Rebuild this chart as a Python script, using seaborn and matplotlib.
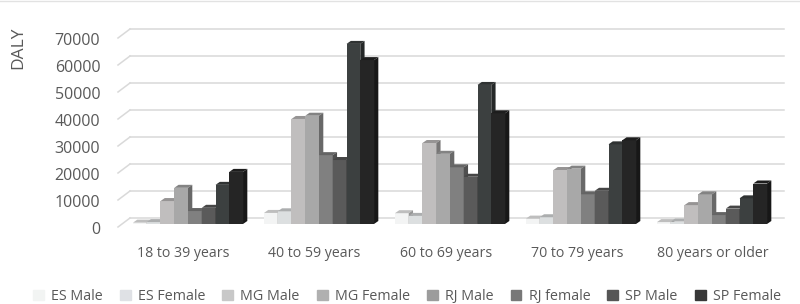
import matplotlib
matplotlib.use('Agg')
import matplotlib.pyplot as plt
import matplotlib.patches as mpatches
from matplotlib.colors import to_rgb
from matplotlib.transforms import ScaledTranslation
import pandas as pd
import seaborn as sns

ages = ['18 to 39 years', '40 to 59 years', '60 to 69 years', '70 to 79 years', '80 years or older']
groups = ['ES Male', 'ES Female', 'MG Male', 'MG Female', 'RJ Male', 'RJ female', 'SP Male', 'SP Female']

es_male = [500, 4100, 4000, 2000, 700]
es_female = [700, 4700, 3000, 2500, 900]
mg_male = [8500, 38900, 30000, 20000, 7000]
mg_female = [13400, 40100, 26000, 20500, 11000]
rj_male = [4800, 25500, 21000, 11000, 3300]
rj_female = [6000, 23700, 17500, 12300, 5700]
sp_male = [14500, 66700, 51500, 29500, 9500]
sp_female = [19300, 60700, 41000, 31000, 15000]
all_series = [es_male, es_female, mg_male, mg_female, rj_male, rj_female, sp_male, sp_female]

bar_colors = ['#f3f4f4', '#dcdfe0', '#c0bebe', '#a8a8a8', '#808080', '#5a5a5a', '#3c4040', '#252525']
legend_colors = ['#f2f4f3', '#dfe1e5', '#c8c8c8', '#b0b0b0', '#9c9c9c', '#787878', '#565656', '#383838']
y_ticks = [0, 10000, 20000, 30000, 40000, 50000, 60000, 70000]
label_shift = [-4.5, -4.5, -4, -3.5, 0.5]
text_color = '#595959'
grid_color = '#d9d9d9'

df = pd.DataFrame({
    'age': [a for s in all_series for a in ages],
    'group': [g for g in groups for a in ages],
    'daly': [v for s in all_series for v in s],
})

plt.rcParams['font.family'] = 'Open Sans'

fig = plt.figure(figsize=(8, 3.04), dpi=100)
ax = fig.add_axes([122.5 / 800, 80 / 304, 655 / 800, 202.5 / 304])

sns.barplot(ax=ax, data=df, x='age', y='daly', hue='group', order=ages, hue_order=groups,
            palette=bar_colors, saturation=1, width=0.84, gap=0, errorbar=None, legend=False)
ax.set_xlim(-0.5, 4.5)
ax.set_ylim(0, 75000)

# pixel sizes in data units
px_x = 1 / 131
px_y = 10000 / 27
depth_x = 4.3 * px_x
depth_y = 3 * px_y


def shade(color, k):
    return tuple(c * k for c in to_rgb(color))


# fake 3d: top and side faces on every bar
for i, cont in enumerate(ax.containers):
    for bar in cont:
        x0 = bar.get_x()
        x1 = x0 + bar.get_width()
        h = bar.get_height()
        z = 3 + i * 0.1
        bar.set_zorder(z)
        bar.set_linewidth(0)
        top = [(x0, h), (x1, h), (x1 + depth_x, h + depth_y), (x0 + depth_x, h + depth_y)]
        side = [(x1, 0), (x1 + depth_x, depth_y), (x1 + depth_x, h + depth_y), (x1, h)]
        ax.add_patch(mpatches.Polygon(top, closed=True, fc=shade(bar_colors[i], 0.78), lw=0, zorder=z, clip_on=False))
        ax.add_patch(mpatches.Polygon(side, closed=True, fc=shade(bar_colors[i], 0.62), lw=0, zorder=z, clip_on=False))

# back wall lines and the slanted left ends
for v in y_ticks:
    ax.plot([-0.5 + 7.5 * px_x, 4.5 + 6.5 * px_x], [v + 6 * px_y] * 2, color=grid_color, lw=1.1, zorder=1, clip_on=False)
    ax.plot([-0.5 - 4.5 * px_x, -0.5 + 7.5 * px_x], [v - 3 * px_y, v + 6 * px_y], color=grid_color, lw=1.1, zorder=1, clip_on=False)

sns.despine(ax=ax, left=True, bottom=True)
ax.set_yticks(y_ticks)
ax.set_yticklabels([str(v) for v in y_ticks])
ax.tick_params(axis='y', length=0, pad=16, labelsize=11.5, labelcolor=text_color)
ax.tick_params(axis='x', length=0, pad=16, labelsize=10.2, labelcolor=text_color)
for lab in ax.get_yticklabels():
    lab.set_transform(lab.get_transform() + ScaledTranslation(0, -4 / 100, fig.dpi_scale_trans))
for lab, dx in zip(ax.get_xticklabels(), label_shift):
    lab.set_transform(lab.get_transform() + ScaledTranslation(dx / 100, 0, fig.dpi_scale_trans))
ax.set_xlabel('')
ax.set_ylabel('DALY', fontsize=12.5, color=text_color)
ax.yaxis.set_label_coords(-96 / 655, (224 - 48) / 202.5)

handles = [mpatches.Patch(color=c, label=g) for c, g in zip(legend_colors, groups)]
ax.legend(handles=handles, ncol=8, frameon=False, loc='center', bbox_to_anchor=(407 / 800, 7.5 / 304),
          bbox_transform=fig.transFigure, fontsize=10.3, labelcolor=text_color, handlelength=0.75,
          handleheight=0.75, handletextpad=0.5, columnspacing=1.2, borderpad=0, borderaxespad=0)

# frame line along the top of the image
fig.add_artist(plt.Line2D([0, 1], [1 - 0.5 / 304] * 2, color='#e2e2e2', lw=1))

fig.savefig('out.png', dpi=100)
